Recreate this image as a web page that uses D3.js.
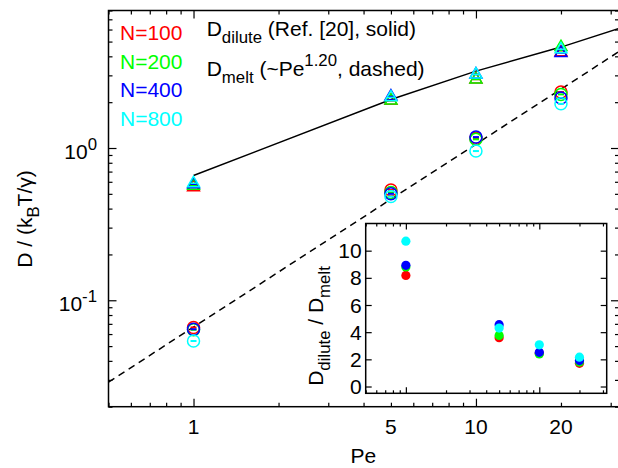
<!DOCTYPE html>
<html>
<head>
<meta charset="utf-8">
<script src="https://cdn.jsdelivr.net/npm/d3@7"></script>
<style>
body { margin: 0; background: #fff; }
svg text { font-family: "Liberation Sans", Arial, Helvetica, sans-serif; fill: #000; }
</style>
</head>
<body>
<div id="chart"></div>
<script>
"use strict";

// Pe values of the simulations
var peValues = [1, 5, 10, 20];
var seriesNames = ["N=100", "N=200", "N=400", "N=800"];
var seriesColors = ["#ff0000", "#00ff00", "#0000ff", "#00ffff"];

// open triangles, D of the dilute runs
var triD100 = [0.552, 2.04, 2.82, 4.25];
var triD200 = [0.565, 2.05, 2.82, 4.6];
var triD400 = [0.578, 2.18, 3.04, 4.2];
var triD800 = [0.587, 2.15, 3.04, 4.45];

// open circles, D of the melt runs
var circD100 = [0.0663, 0.53, 1.16, 2.33];
var circD200 = [0.064, 0.51, 1.14, 2.25];
var circD400 = [0.0645, 0.50, 1.18, 2.13];
var circD800 = [0.054, 0.48, 0.955, 1.95];

// inset, D_dilute / D_melt
var ratio100 = [8.18, 3.59, 2.45, 1.71];
var ratio200 = [8.8, 3.76, 2.4, 1.8];
var ratio400 = [8.92, 4.55, 2.52, 1.91];
var ratio800 = [10.7, 4.3, 3.07, 2.16];

// solid line (Ref. [20])
var dilutePe = [1, 5, 10, 20, 32.1];
var diluteD = [0.66, 2.08, 3.2, 4.6, 6.1];
// dashed line ~Pe^1.20, its two end points
var meltPe = [0.5, 32.1];
var meltD = [0.029, 4.3];

var xTickLabels = [1, 5, 10, 20];
var yTickLabels = [0.1, 1];
var insetYTicks = [0, 2, 4, 6, 8, 10];

var triSets = [triD100, triD200, triD400, triD800];
var circSets = [circD100, circD200, circD400, circD800];
var ratioSets = [ratio100, ratio200, ratio400, ratio800];

var width = 618, height = 468;
var frame = { left: 108.5, right: 619, top: 10.5, bottom: 406.7 };
var inset = { left: 365.7, right: 606.7, top: 223.5, bottom: 393.3 };

var svg = d3.select("#chart").append("svg")
    .attr("width", width)
    .attr("height", height);

var x = d3.scaleLog().domain([0.5, 32.1]).range([frame.left, frame.right]);
var y = d3.scaleLog().domain([0.02, 8]).range([frame.bottom, frame.top]);

//log minor ticks 1..9 per decade inside the domain
function logTicks(domain, majorOnly) {
    var out = [];
    for (var e = -3; e <= 3; e++) {
        for (var m = 1; m <= 9; m++) {
            if (majorOnly && m != 1) continue;
            if (!majorOnly && m == 1) continue;
            var v = +(m * Math.pow(10, e)).toPrecision(6);
            if (v >= domain[0] && v <= domain[1]) out.push(v);
        }
    }
    return out;
}

function drawTicks(g, axis, values, size) {
    g.call(axis.tickValues(values).tickSize(-size).tickFormat(""));
    g.select(".domain").remove();
    g.selectAll("line").attr("stroke", "#000").attr("stroke-width", 1.2);
}

//main axes, ticks pointing inward on all four sides
var ticksG = svg.append("g");
[[d3.axisBottom(x), "translate(0," + frame.bottom + ")"],
 [d3.axisTop(x), "translate(0," + frame.top + ")"]].forEach(function(a) {
    drawTicks(ticksG.append("g").attr("transform", a[1]), a[0], logTicks(x.domain(), false), 4);
    drawTicks(ticksG.append("g").attr("transform", a[1]), a[0].scale(x).tickSizeOuter(0), logTicks(x.domain(), true), 8);
});
[[d3.axisLeft(y), "translate(" + frame.left + ",0)"],
 [d3.axisRight(y), "translate(" + frame.right + ",0)"]].forEach(function(a) {
    drawTicks(ticksG.append("g").attr("transform", a[1]), a[0], logTicks(y.domain(), false), 4);
    drawTicks(ticksG.append("g").attr("transform", a[1]), a[0].scale(y), logTicks(y.domain(), true), 8);
});

//tick labels
svg.append("g").selectAll("text")
    .data(xTickLabels)
    .enter().append("text")
    .attr("x", function(d) { return x(d); })
    .attr("y", frame.bottom + 27)
    .attr("text-anchor", "middle")
    .style("font-size", "21px")
    .text(function(d) { return d; });

var yLab = svg.append("g").selectAll("text")
    .data(yTickLabels)
    .enter().append("text")
    .attr("x", 97)
    .attr("y", function(d) { return y(d) + 11; })
    .attr("text-anchor", "end")
    .style("font-size", "21px");
yLab.append("tspan").text("10");
yLab.append("tspan")
    .attr("dy", -9)
    .style("font-size", "16.8px")
    .text(function(d) { return Math.round(Math.log10(d)); });

//axis titles
svg.append("text")
    .attr("x", (frame.left + 618) / 2)
    .attr("y", 463)
    .attr("text-anchor", "middle")
    .style("font-size", "21px")
    .text("Pe");

var yTitle = svg.append("text")
    .attr("transform", "translate(32,219) rotate(-90)")
    .attr("text-anchor", "middle")
    .style("font-size", "21px");
yTitle.append("tspan").text("D / (k");
yTitle.append("tspan").attr("dy", 7).style("font-size", "16.8px").text("B");
yTitle.append("tspan").attr("dy", -7).text("T/\u03b3)");

//clip for the lines
svg.append("clipPath").attr("id", "plotClip")
    .append("rect")
    .attr("x", frame.left).attr("y", frame.top)
    .attr("width", frame.right - frame.left)
    .attr("height", frame.bottom - frame.top);

var lineGen = d3.line()
    .x(function(d) { return x(d[0]); })
    .y(function(d) { return y(d[1]); });

var lines = svg.append("g").attr("clip-path", "url(#plotClip)");
lines.append("path")
    .datum(d3.zip(dilutePe, diluteD))
    .attr("d", lineGen)
    .attr("fill", "none")
    .attr("stroke", "#000")
    .attr("stroke-width", 1.5);
lines.append("path")
    .datum(d3.zip(meltPe, meltD))
    .attr("d", lineGen)
    .attr("fill", "none")
    .attr("stroke", "#000")
    .attr("stroke-width", 1.5)
    .attr("stroke-dasharray", "7,5");

//markers, red first so cyan ends up on top
var triangle = d3.symbol().type(d3.symbolTriangle).size(62);
var marks = svg.append("g");
seriesColors.forEach(function(col, i) {
    var tri = marks.append("g").selectAll("g")
        .data(d3.zip(peValues, triSets[i]))
        .enter().append("g")
        .attr("transform", function(d) { return "translate(" + x(d[0]) + "," + y(d[1]) + ")"; });
    tri.append("path")
        .attr("d", triangle)
        .attr("fill", "none")
        .attr("stroke", col)
        .attr("stroke-width", 1.5);
    tri.append("line")
        .attr("x1", -3).attr("x2", 3)
        .attr("stroke", col).attr("stroke-width", 1.5);

    var circ = marks.append("g").selectAll("g")
        .data(d3.zip(peValues, circSets[i]))
        .enter().append("g")
        .attr("transform", function(d) { return "translate(" + x(d[0]) + "," + y(d[1]) + ")"; });
    circ.append("circle")
        .attr("r", 6)
        .attr("fill", "none")
        .attr("stroke", col)
        .attr("stroke-width", 1.5);
    circ.append("line")
        .attr("x1", -3).attr("x2", 3)
        .attr("stroke", col).attr("stroke-width", 2);
});

//frame
svg.append("rect")
    .attr("x", frame.left).attr("y", frame.top)
    .attr("width", frame.right - frame.left)
    .attr("height", frame.bottom - frame.top)
    .attr("fill", "none")
    .attr("stroke", "#000")
    .attr("stroke-width", 1.5);

//legend
svg.append("g").selectAll("text")
    .data(seriesNames)
    .enter().append("text")
    .attr("x", 120)
    .attr("y", function(d, i) { return 40 + i * 28.7; })
    .style("font-size", "21px")
    .style("fill", function(d, i) { return seriesColors[i]; })
    .text(function(d) { return d; });

var dil = svg.append("text").attr("x", 206.7).attr("y", 36).style("font-size", "21px");
dil.append("tspan").text("D");
dil.append("tspan").attr("dy", 7).style("font-size", "16.8px").text("dilute");
dil.append("tspan").attr("dy", -7).text(" (Ref. [20], solid)");

var mel = svg.append("text").attr("x", 206.7).attr("y", 76).style("font-size", "21px");
mel.append("tspan").text("D");
mel.append("tspan").attr("dy", 7).style("font-size", "16.8px").text("melt");
mel.append("tspan").attr("dy", -7).text(" (~Pe");
mel.append("tspan").attr("dy", -10).style("font-size", "16.8px").text("1.20");
mel.append("tspan").attr("dy", 10).text(", dashed)");

//=========================== inset
var ix = d3.scaleLog().domain([0.5, 32]).range([inset.left, inset.right]);
var iy = d3.scaleLinear().domain([-0.5, 12]).range([inset.bottom, inset.top]);

var insetG = svg.append("g");
insetG.append("rect")
    .attr("x", inset.left).attr("y", inset.top)
    .attr("width", inset.right - inset.left)
    .attr("height", inset.bottom - inset.top)
    .attr("fill", "#fff");

[[d3.axisBottom(ix), "translate(0," + inset.bottom + ")"],
 [d3.axisTop(ix), "translate(0," + inset.top + ")"]].forEach(function(a) {
    drawTicks(insetG.append("g").attr("transform", a[1]), a[0], logTicks(ix.domain(), false), 3);
    drawTicks(insetG.append("g").attr("transform", a[1]), a[0].scale(ix), logTicks(ix.domain(), true), 6);
});
[[d3.axisLeft(iy), "translate(" + inset.left + ",0)"],
 [d3.axisRight(iy), "translate(" + inset.right + ",0)"]].forEach(function(a) {
    drawTicks(insetG.append("g").attr("transform", a[1]), a[0], insetYTicks, 6);
});

insetG.append("g").selectAll("text")
    .data(insetYTicks)
    .enter().append("text")
    .attr("x", inset.left - 4)
    .attr("y", function(d) { return iy(d) + 7.5; })
    .attr("text-anchor", "end")
    .style("font-size", "21px")
    .text(function(d) { return d; });

var iTitle = insetG.append("text")
    .attr("transform", "translate(323,326) rotate(-90)")
    .attr("text-anchor", "middle")
    .style("font-size", "21px");
iTitle.append("tspan").text("D");
iTitle.append("tspan").attr("dy", 7).style("font-size", "16.8px").text("dilute");
iTitle.append("tspan").attr("dy", -7).text(" / D");
iTitle.append("tspan").attr("dy", 7).style("font-size", "16.8px").text("melt");

seriesColors.forEach(function(col, i) {
    insetG.append("g").selectAll("circle")
        .data(d3.zip(peValues, ratioSets[i]))
        .enter().append("circle")
        .attr("cx", function(d) { return ix(d[0]); })
        .attr("cy", function(d) { return iy(d[1]); })
        .attr("r", 4.6)
        .attr("fill", col);
});

insetG.append("rect")
    .attr("x", inset.left).attr("y", inset.top)
    .attr("width", inset.right - inset.left)
    .attr("height", inset.bottom - inset.top)
    .attr("fill", "none")
    .attr("stroke", "#000")
    .attr("stroke-width", 1.5);
</script>
</body>
</html>
